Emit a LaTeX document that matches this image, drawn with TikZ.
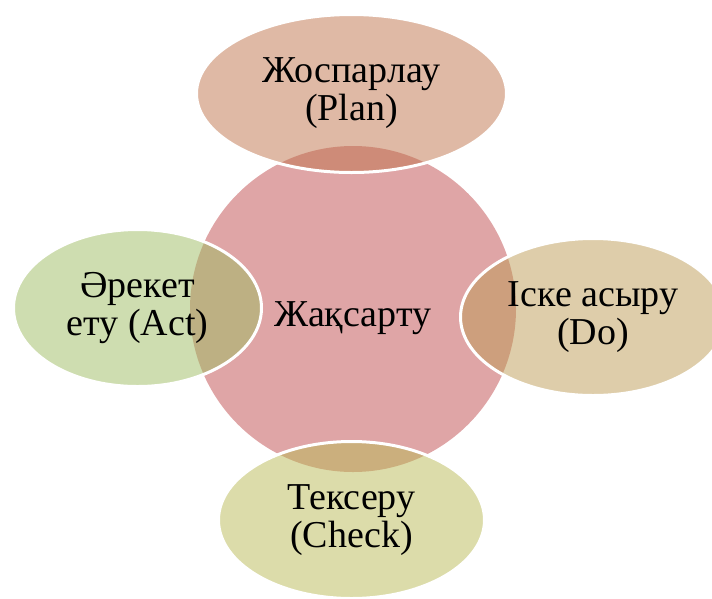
\documentclass[tikz,border=0pt]{standalone}
\usepackage{fontspec}
\setmainfont{Liberation Serif}
\usetikzlibrary{shapes.geometric}

\definecolor{centrefill}{RGB}{223,165,166}
\definecolor{planfill}{RGB}{191,115,75}
\definecolor{dofill}{RGB}{189,155,85}
\definecolor{checkfill}{RGB}{185,185,85}
\definecolor{actfill}{RGB}{157,187,97}

\tikzset{
	labeltext/.style={inner sep=0pt, align=center, font=\fontsize{38}{38}\selectfont,
		execute at begin node={\rule{0pt}{44pt}}},
	stage/.style={ellipse, draw=white, line width=3pt, fill opacity=0.5, draw opacity=1, text opacity=1, labeltext},
}

\begin{document}
\begin{tikzpicture}[x=1pt,y=-1pt]
	\useasboundingbox (0,0) rectangle (712,598);
	\node[circle, fill=centrefill, minimum size=326pt, labeltext] (centre) at (353,309) {Жақсарту};
	\node[stage, fill=planfill, minimum width=310pt, minimum height=158pt] (plan) at (351.5,93.5) {Жоспарлау\\(Plan)};
	\node[stage, fill=dofill, minimum width=265pt, minimum height=157pt] (do) at (593,317) {Іске асыру\\(Do)};
	\node[stage, fill=checkfill, minimum width=266pt, minimum height=157pt] (check) at (351.5,520) {Тексеру\\(Check)};
	\node[stage, fill=actfill, minimum width=248pt, minimum height=157pt] (act) at (137.5,308) {Әрекет\\ету (Act)};
\end{tikzpicture}
\end{document}
